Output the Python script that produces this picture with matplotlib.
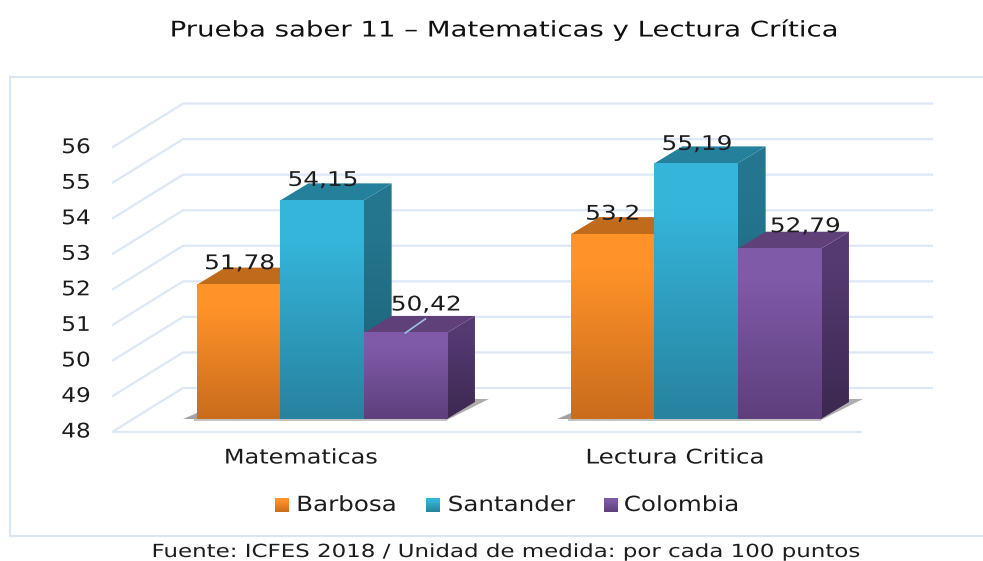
import numpy as np
from matplotlib import pyplot as plt
from matplotlib.patches import Polygon, Rectangle
from matplotlib.colors import LinearSegmentedColormap
from matplotlib.patheffects import AbstractPathEffect
from matplotlib.transforms import Affine2D

plt.rcParams['font.family'] = ['DejaVu Sans']

categories = ["Matematicas", "Lectura Critica"]
series_names = ["Barbosa", "Santander", "Colombia"]
barbosa = [51.78, 53.2]
santander = [54.15, 55.19]
colombia = [50.42, 52.79]
value_labels = [["51,78", "53,2"], ["54,15", "55,19"], ["50,42", "52,79"]]
y_ticks = [48, 49, 50, 51, 52, 53, 54, 55, 56]

# face colours: top of gradient, bottom of gradient
front_cols = [("#ff9229", "#c96c1c"), ("#35b5da", "#27829f"), ("#7f5aa8", "#5e3f7c")]
side_cols = [("#b86a1c", "#8a4f14"), ("#24768f", "#1c5f74"), ("#553a72", "#3c2850")]
top_cols = ["#c06a1b", "#25809c", "#5f4079"]

W, H = 983, 561
PX_UNIT = 35.55     # pixels per score point
PX_GROUP = 374.0    # pixels between the two groups
X0_PX, Y0_PX = 322.0, 419.0
BAR_W = 83.3 / PX_GROUP
DX = 28 / PX_GROUP
DY = 17 / PX_UNIT
# label offsets in pixels from top centre of each bar
label_off = [[(1, 21), (0, 20)], [(1, 20), (1, 19)], [(21, 28), (26, 22)]]
TEXT_COL = "#1c1c1c"


class Stretch(AbstractPathEffect):
    # the reference text is wider than the font, widen it around its centre
    def __init__(self, sx):
        super().__init__()
        self.sx = sx

    def draw_path(self, renderer, gc, tpath, affine, rgbFace=None):
        ext = tpath.get_extents()
        cx = (ext.x0 + ext.x1) / 2
        tr = Affine2D().translate(-cx, 0).scale(self.sx, 1).translate(cx, 0) + affine
        renderer.draw_path(gc, tpath, tr, rgbFace)


fig = plt.figure(figsize=(W / 100, H / 100), dpi=100)
ax = fig.add_axes([0, 0, 1, 1])
ax.axis("off")

grid_col = "#dde7f6"
line_kw = dict(color=grid_col, lw=1.6, zorder=1, solid_capstyle="butt")


def px_x(p):
    return (p - X0_PX) / PX_GROUP


def px_y(p):
    return 48 + (Y0_PX - p) / PX_UNIT


def gradient(x0, x1, y0, y1, c_top, c_bot, zorder, clip=None):
    cmap = LinearSegmentedColormap.from_list("g", [(0, c_top), (0.18, c_top), (1, c_bot)])
    im = ax.imshow(np.linspace(0, 1, 128).reshape(-1, 1), cmap=cmap, aspect="auto",
                   extent=(x0, x1, y0, y1), origin="upper", zorder=zorder)
    if clip is not None:
        im.set_clip_path(clip)
    return im


# outer frame
ax.add_patch(Rectangle((px_x(10), px_y(536)), px_x(990) - px_x(10), px_y(77) - px_y(536),
                       fc="white", ec="#dbe6f3", lw=1.5, zorder=0))

# gridlines: tick position is the front end, back wall is up and right
back_left = px_x(183)
back_right = px_x(933)
front_left = px_x(112)
floor_back = px_y(388)
for v in y_ticks:
    yb = floor_back + (v - 48)
    yf = yb - 44 / PX_UNIT
    ax.plot([front_left, back_left, back_right], [yf, yb, yb], **line_kw)
    ax.text(px_x(76), yf, str(v), ha="center", va="center", fontsize=14.5, color=TEXT_COL, zorder=8,
            path_effects=[Stretch(1.15)])
yf0 = floor_back - 44 / PX_UNIT
ax.plot([front_left, px_x(862)], [yf0, yf0], **line_kw)

all_series = [barbosa, santander, colombia]
for g in range(len(categories)):
    left = g - 1.5 * BAR_W
    right = g + 1.5 * BAR_W
    # floor shadow
    ax.add_patch(Polygon([(left - 14 / PX_GROUP, 48), (left, 48), (left, 48 + 0.16)],
                         fc="#666666", alpha=0.6, ec="none", zorder=2))
    ax.add_patch(Polygon([(right, 48 - 1 / PX_UNIT), (right + DX + 14 / PX_GROUP, 48 + DY + 3 / PX_UNIT),
                          (right + DX, 48 + DY + 3 / PX_UNIT), (right, 48)],
                         fc="#8a8a8a", alpha=0.7, ec="none", zorder=2))
    ax.add_patch(Rectangle((left - 3 / PX_GROUP, 48 - 2 / PX_UNIT), right - left + 3 / PX_GROUP, 2 / PX_UNIT,
                           fc="#9a9a9a", alpha=0.6, ec="none", zorder=2))
    for s in range(len(all_series)):
        v = all_series[s][g]
        x0 = left + s * BAR_W
        x1 = x0 + BAR_W
        z = 3 + s * 0.1
        # side face
        side = Polygon([(x1, 48), (x1 + DX, 48 + DY), (x1 + DX, v + DY), (x1, v)], closed=True,
                       fc="none", ec="none")
        ax.add_patch(side)
        gradient(x1, x1 + DX, 48, v + DY, side_cols[s][0], side_cols[s][1], z, side)
        # top face
        ax.add_patch(Polygon([(x0, v), (x1, v), (x1 + DX, v + DY), (x0 + DX, v + DY)],
                             fc=top_cols[s], ec="none", zorder=z))
    for s in range(len(all_series)):
        v = all_series[s][g]
        x0 = left + s * BAR_W
        gradient(x0, x0 + BAR_W, 48, v, front_cols[s][0], front_cols[s][1], 4)
        ox, oy = label_off[s][g]
        ax.annotate(value_labels[s][g], (x0 + BAR_W / 2, v), xytext=(ox * 0.72, oy * 0.72),
                    textcoords="offset points", ha="center", va="center",
                    fontsize=14.5, color=TEXT_COL, zorder=9, path_effects=[Stretch(1.23)])

# leader line on the Colombia label of first group
lead_v = colombia[0]
lead_x = BAR_W
ax.plot([lead_x, lead_x + 20 / PX_GROUP], [lead_v, lead_v + 14 / PX_UNIT], color="#9fc3dc", lw=1.2, zorder=8)

# category labels
cat_stretch = [1.19, 1.22]
for g, name in enumerate(categories):
    ax.text(g - 21 / PX_GROUP, px_y(458), name, ha="center", va="center", fontsize=14.5, color=TEXT_COL,
            path_effects=[Stretch(cat_stretch[g])])

# legend
swatch_x = [275, 426, 604]
text_x = [346.5, 511.5, 681.5]
for s, name in enumerate(series_names):
    gradient(px_x(swatch_x[s]), px_x(swatch_x[s] + 14), px_y(512), px_y(498),
             front_cols[s][0], front_cols[s][1], 5)
    ax.text(px_x(text_x[s]), px_y(505), name, ha="center", va="center", fontsize=15, color=TEXT_COL,
            path_effects=[Stretch(1.18)])

ax.text(px_x(504), px_y(30), "Prueba saber 11 \u2013 Matematicas y Lectura Cr\u00edtica",
        ha="center", va="center", fontsize=15.5, color="#111111", path_effects=[Stretch(1.28)])
ax.text(px_x(505), px_y(552), "Fuente: ICFES 2018 / Unidad de medida: por cada 100 puntos",
        ha="center", va="center", fontsize=13, color=TEXT_COL, path_effects=[Stretch(1.27)])

# imshow changes the view, so set it last
ax.set_xlim((0 - X0_PX) / PX_GROUP, (W - X0_PX) / PX_GROUP)
ax.set_ylim(48 - (H - Y0_PX) / PX_UNIT, 48 + Y0_PX / PX_UNIT)

plt.savefig("out.png", dpi=100)
